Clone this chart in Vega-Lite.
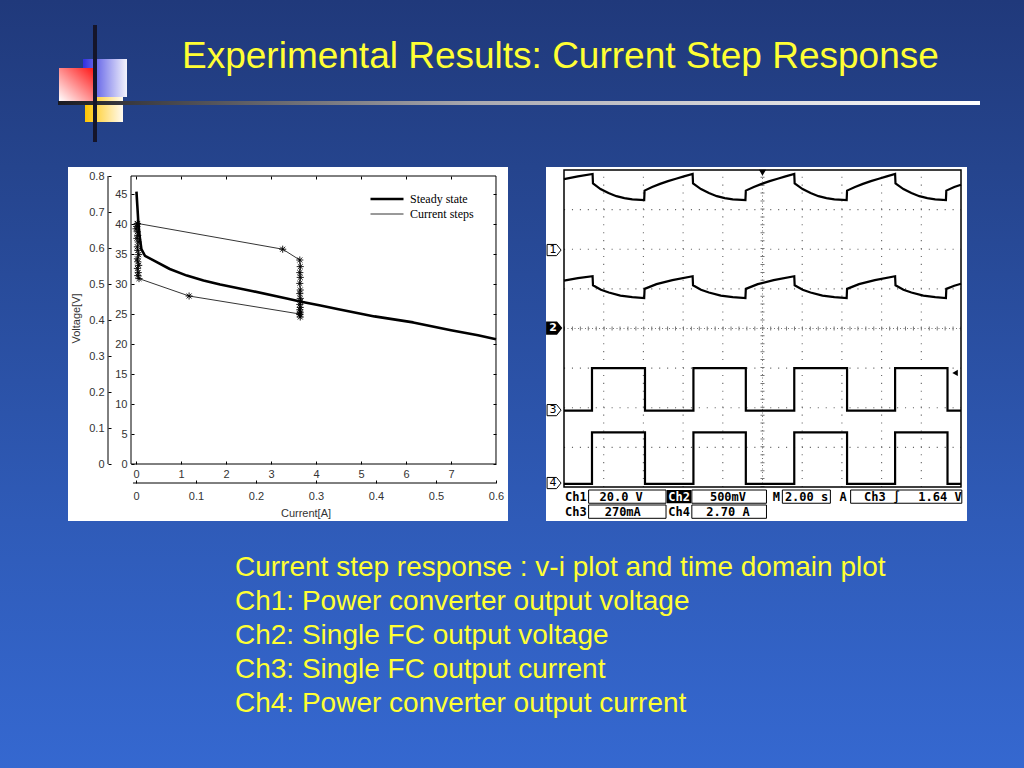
{
  "$schema": "https://vega.github.io/schema/vega-lite/v6.json",
  "background": "#2a4fa3",
  "padding": 0,
  "spacing": 0,
  "config": {"view": {"stroke": null}, "concat": {"spacing": 0}},
  "datasets": {
    "vi": [
      {"series":"Steady state","i":1,"A":0.01,"V":45.4},
      {"series":"Steady state","i":2,"A":0.03,"V":43.0},
      {"series":"Steady state","i":3,"A":0.05,"V":40.5},
      {"series":"Steady state","i":4,"A":0.08,"V":38.0},
      {"series":"Steady state","i":5,"A":0.12,"V":35.8},
      {"series":"Steady state","i":6,"A":0.2,"V":34.7},
      {"series":"Steady state","i":7,"A":0.4,"V":33.9},
      {"series":"Steady state","i":8,"A":0.75,"V":32.5},
      {"series":"Steady state","i":9,"A":1.13,"V":31.4},
      {"series":"Steady state","i":10,"A":1.5,"V":30.6},
      {"series":"Steady state","i":11,"A":1.87,"V":29.9},
      {"series":"Steady state","i":12,"A":2.6,"V":28.8},
      {"series":"Steady state","i":13,"A":3.35,"V":27.6},
      {"series":"Steady state","i":14,"A":3.7,"V":27.0},
      {"series":"Steady state","i":15,"A":4.1,"V":26.4},
      {"series":"Steady state","i":16,"A":4.5,"V":25.8},
      {"series":"Steady state","i":17,"A":5.3,"V":24.6},
      {"series":"Steady state","i":18,"A":6.16,"V":23.6},
      {"series":"Steady state","i":19,"A":7.0,"V":22.3},
      {"series":"Steady state","i":20,"A":7.6,"V":21.45},
      {"series":"Steady state","i":21,"A":8.0,"V":20.8},
      {"series":"Current steps","i":1,"A":0.03,"V":40.1},
      {"series":"Current steps","i":2,"A":3.26,"V":35.8},
      {"series":"Current steps","i":3,"A":3.64,"V":34.0},
      {"series":"Current steps","i":4,"A":3.65,"V":32.9},
      {"series":"Current steps","i":5,"A":3.64,"V":31.9},
      {"series":"Current steps","i":6,"A":3.65,"V":31.1},
      {"series":"Current steps","i":7,"A":3.64,"V":30.1},
      {"series":"Current steps","i":8,"A":3.65,"V":29.0},
      {"series":"Current steps","i":9,"A":3.64,"V":28.4},
      {"series":"Current steps","i":10,"A":3.65,"V":27.6},
      {"series":"Current steps","i":11,"A":3.66,"V":27.1},
      {"series":"Current steps","i":12,"A":3.64,"V":26.6},
      {"series":"Current steps","i":13,"A":3.65,"V":26.1},
      {"series":"Current steps","i":14,"A":3.64,"V":25.7},
      {"series":"Current steps","i":15,"A":3.65,"V":25.3},
      {"series":"Current steps","i":16,"A":3.64,"V":24.9},
      {"series":"Current steps","i":17,"A":3.65,"V":24.5},
      {"series":"Current steps","i":18,"A":3.64,"V":25.0},
      {"series":"Current steps","i":19,"A":1.18,"V":28.0},
      {"series":"Current steps","i":20,"A":0.067,"V":30.9},
      {"series":"Current steps","i":21,"A":0.04,"V":31.4},
      {"series":"Current steps","i":22,"A":0.05,"V":31.9},
      {"series":"Current steps","i":23,"A":0.03,"V":32.6},
      {"series":"Current steps","i":24,"A":0.06,"V":33.1},
      {"series":"Current steps","i":25,"A":0.04,"V":33.7},
      {"series":"Current steps","i":26,"A":0.03,"V":34.2},
      {"series":"Current steps","i":27,"A":0.06,"V":34.9},
      {"series":"Current steps","i":28,"A":0.04,"V":35.6},
      {"series":"Current steps","i":29,"A":0.03,"V":36.2},
      {"series":"Current steps","i":30,"A":0.05,"V":37.0},
      {"series":"Current steps","i":31,"A":0.02,"V":37.6},
      {"series":"Current steps","i":32,"A":0.04,"V":38.1},
      {"series":"Current steps","i":33,"A":0.03,"V":38.7},
      {"series":"Current steps","i":34,"A":0.0,"V":39.2},
      {"series":"Current steps","i":35,"A":0.02,"V":39.6},
      {"series":"Current steps","i":36,"A":0.03,"V":40.0}
    ],
    "scope": [
      {"ch":"1","i":1,"t":0,"v":7.77},{"ch":"1","i":2,"t":0.35,"v":7.84},{"ch":"1","i":3,"t":0.72,"v":7.9},{"ch":"1","i":4,"t":0.73,"v":7.66},
      {"ch":"1","i":5,"t":0.92,"v":7.52},{"ch":"1","i":6,"t":1.12,"v":7.42},{"ch":"1","i":7,"t":1.32,"v":7.34},{"ch":"1","i":8,"t":1.52,"v":7.29},
      {"ch":"1","i":9,"t":1.72,"v":7.26},{"ch":"1","i":10,"t":2.02,"v":7.24},{"ch":"1","i":11,"t":2.03,"v":7.48},{"ch":"1","i":12,"t":2.22,"v":7.57},
      {"ch":"1","i":13,"t":2.42,"v":7.65},{"ch":"1","i":14,"t":2.62,"v":7.72},{"ch":"1","i":15,"t":2.82,"v":7.78},{"ch":"1","i":16,"t":3.02,"v":7.84},
      {"ch":"1","i":17,"t":3.24,"v":7.9},{"ch":"1","i":18,"t":3.25,"v":7.66},{"ch":"1","i":19,"t":3.45,"v":7.52},{"ch":"1","i":20,"t":3.65,"v":7.42},
      {"ch":"1","i":21,"t":3.85,"v":7.34},{"ch":"1","i":22,"t":4.05,"v":7.29},{"ch":"1","i":23,"t":4.25,"v":7.26},{"ch":"1","i":24,"t":4.57,"v":7.24},
      {"ch":"1","i":25,"t":4.58,"v":7.48},{"ch":"1","i":26,"t":4.78,"v":7.57},{"ch":"1","i":27,"t":4.98,"v":7.65},{"ch":"1","i":28,"t":5.18,"v":7.72},
      {"ch":"1","i":29,"t":5.38,"v":7.78},{"ch":"1","i":30,"t":5.58,"v":7.84},{"ch":"1","i":31,"t":5.8,"v":7.9},{"ch":"1","i":32,"t":5.81,"v":7.66},
      {"ch":"1","i":33,"t":6.01,"v":7.52},{"ch":"1","i":34,"t":6.21,"v":7.42},{"ch":"1","i":35,"t":6.41,"v":7.34},{"ch":"1","i":36,"t":6.61,"v":7.29},
      {"ch":"1","i":37,"t":6.81,"v":7.26},{"ch":"1","i":38,"t":7.12,"v":7.24},{"ch":"1","i":39,"t":7.13,"v":7.48},{"ch":"1","i":40,"t":7.33,"v":7.57},
      {"ch":"1","i":41,"t":7.53,"v":7.65},{"ch":"1","i":42,"t":7.73,"v":7.72},{"ch":"1","i":43,"t":7.93,"v":7.78},{"ch":"1","i":44,"t":8.13,"v":7.84},
      {"ch":"1","i":45,"t":8.34,"v":7.9},{"ch":"1","i":46,"t":8.35,"v":7.66},{"ch":"1","i":47,"t":8.55,"v":7.52},{"ch":"1","i":48,"t":8.75,"v":7.42},
      {"ch":"1","i":49,"t":8.95,"v":7.34},{"ch":"1","i":50,"t":9.15,"v":7.29},{"ch":"1","i":51,"t":9.35,"v":7.26},{"ch":"1","i":52,"t":9.62,"v":7.24},
      {"ch":"1","i":53,"t":9.63,"v":7.48},{"ch":"1","i":54,"t":9.83,"v":7.57},{"ch":"1","i":55,"t":10.0,"v":7.63},
      {"ch":"2","i":1,"t":0,"v":5.21},{"ch":"2","i":2,"t":0.35,"v":5.27},{"ch":"2","i":3,"t":0.72,"v":5.32},{"ch":"2","i":4,"t":0.73,"v":5.09},
      {"ch":"2","i":5,"t":0.93,"v":4.98},{"ch":"2","i":6,"t":1.13,"v":4.91},{"ch":"2","i":7,"t":1.42,"v":4.83},{"ch":"2","i":8,"t":1.72,"v":4.79},
      {"ch":"2","i":9,"t":2.02,"v":4.77},{"ch":"2","i":10,"t":2.03,"v":5.0},{"ch":"2","i":11,"t":2.33,"v":5.12},{"ch":"2","i":12,"t":2.73,"v":5.22},
      {"ch":"2","i":13,"t":3.24,"v":5.32},{"ch":"2","i":14,"t":3.25,"v":5.09},{"ch":"2","i":15,"t":3.45,"v":4.98},{"ch":"2","i":16,"t":3.65,"v":4.91},
      {"ch":"2","i":17,"t":3.95,"v":4.83},{"ch":"2","i":18,"t":4.25,"v":4.79},{"ch":"2","i":19,"t":4.57,"v":4.77},{"ch":"2","i":20,"t":4.58,"v":5.0},
      {"ch":"2","i":21,"t":4.88,"v":5.12},{"ch":"2","i":22,"t":5.28,"v":5.22},{"ch":"2","i":23,"t":5.8,"v":5.32},{"ch":"2","i":24,"t":5.81,"v":5.09},
      {"ch":"2","i":25,"t":6.01,"v":4.98},{"ch":"2","i":26,"t":6.21,"v":4.91},{"ch":"2","i":27,"t":6.51,"v":4.83},{"ch":"2","i":28,"t":6.81,"v":4.79},
      {"ch":"2","i":29,"t":7.12,"v":4.77},{"ch":"2","i":30,"t":7.13,"v":5.0},{"ch":"2","i":31,"t":7.43,"v":5.12},{"ch":"2","i":32,"t":7.83,"v":5.22},
      {"ch":"2","i":33,"t":8.34,"v":5.32},{"ch":"2","i":34,"t":8.35,"v":5.09},{"ch":"2","i":35,"t":8.55,"v":4.98},{"ch":"2","i":36,"t":8.75,"v":4.91},
      {"ch":"2","i":37,"t":9.05,"v":4.83},{"ch":"2","i":38,"t":9.35,"v":4.79},{"ch":"2","i":39,"t":9.62,"v":4.77},{"ch":"2","i":40,"t":9.63,"v":5.0},
      {"ch":"2","i":41,"t":9.83,"v":5.08},{"ch":"2","i":42,"t":10.0,"v":5.13},
      {"ch":"3","i":1,"t":0,"v":1.93},{"ch":"3","i":2,"t":0.705,"v":1.93},{"ch":"3","i":3,"t":0.705,"v":3.0},{"ch":"3","i":4,"t":2.04,"v":3.0},
      {"ch":"3","i":5,"t":2.04,"v":1.93},{"ch":"3","i":6,"t":3.26,"v":1.93},{"ch":"3","i":7,"t":3.26,"v":3.0},{"ch":"3","i":8,"t":4.58,"v":3.0},
      {"ch":"3","i":9,"t":4.58,"v":1.93},{"ch":"3","i":10,"t":5.8,"v":1.93},{"ch":"3","i":11,"t":5.8,"v":3.0},{"ch":"3","i":12,"t":7.13,"v":3.0},
      {"ch":"3","i":13,"t":7.13,"v":1.93},{"ch":"3","i":14,"t":8.34,"v":1.93},{"ch":"3","i":15,"t":8.34,"v":3.0},{"ch":"3","i":16,"t":9.66,"v":3.0},
      {"ch":"3","i":17,"t":9.66,"v":1.93},{"ch":"3","i":18,"t":10.0,"v":1.93},
      {"ch":"4","i":1,"t":0,"v":0.08},{"ch":"4","i":2,"t":0.705,"v":0.08},{"ch":"4","i":3,"t":0.705,"v":1.38},{"ch":"4","i":4,"t":2.04,"v":1.38},
      {"ch":"4","i":5,"t":2.04,"v":0.08},{"ch":"4","i":6,"t":3.26,"v":0.08},{"ch":"4","i":7,"t":3.26,"v":1.38},{"ch":"4","i":8,"t":4.58,"v":1.38},
      {"ch":"4","i":9,"t":4.58,"v":0.08},{"ch":"4","i":10,"t":5.8,"v":0.08},{"ch":"4","i":11,"t":5.8,"v":1.38},{"ch":"4","i":12,"t":7.13,"v":1.38},
      {"ch":"4","i":13,"t":7.13,"v":0.08},{"ch":"4","i":14,"t":8.34,"v":0.08},{"ch":"4","i":15,"t":8.34,"v":1.38},{"ch":"4","i":16,"t":9.66,"v":1.38},
      {"ch":"4","i":17,"t":9.66,"v":0.08},{"ch":"4","i":18,"t":10.0,"v":0.08}
    ],
    "readbox": [
      {"x0":0.62,"x1":2.57,"y0":-0.41,"y1":-0.076},
      {"x0":3.22,"x1":5.10,"y0":-0.41,"y1":-0.076},
      {"x0":5.50,"x1":6.71,"y0":-0.41,"y1":-0.076},
      {"x0":7.22,"x1":10.02,"y0":-0.41,"y1":-0.076},
      {"x0":0.62,"x1":2.57,"y0":-0.79,"y1":-0.454},
      {"x0":3.22,"x1":5.10,"y0":-0.79,"y1":-0.454}
    ],
    "readtext": [
      {"t":"Ch1","x":0.3,"y":-0.245},
      {"t":"20.0 V","x":1.44,"y":-0.245},
      {"t":"500mV","x":4.13,"y":-0.245},
      {"t":"M","x":5.35,"y":-0.245},
      {"t":"2.00 s","x":6.11,"y":-0.245},
      {"t":"A","x":7.03,"y":-0.245},
      {"t":"Ch3","x":7.83,"y":-0.245},
      {"t":"∫","x":8.38,"y":-0.245},
      {"t":"1.64 V","x":9.47,"y":-0.245},
      {"t":"Ch3","x":0.3,"y":-0.62},
      {"t":"270mA","x":1.48,"y":-0.62},
      {"t":"Ch4","x":2.9,"y":-0.62},
      {"t":"2.70 A","x":4.13,"y":-0.62}
    ],
    "chmarks": [
      {"lab":"1","y":5.98},
      {"lab":"3","y":1.94},
      {"lab":"4","y":0.1}
    ],
    "notes": [
      {"line":1,"text":"Current step response : v-i plot and time domain plot"},
      {"line":2,"text":"Ch1: Power converter output voltage"},
      {"line":3,"text":"Ch2: Single FC output voltage"},
      {"line":4,"text":"Ch3: Single FC output current"},
      {"line":5,"text":"Ch4: Power converter output current"}
    ]
  },
  "vconcat": [
    {
      "width": 1024,
      "height": 167,
      "view": {"fill": {"gradient":"linear","x1":0,"y1":0,"x2":0,"y2":1,"stops":[{"offset":0,"color":"#20397b"},{"offset":1,"color":"#25448d"}]}},
      "data": {"values": [{}]},
      "layer": [
        {
          "mark": {"type":"rect","fill":{"gradient":"linear","x1":0,"y1":0,"x2":1,"y2":0,"stops":[{"offset":0,"color":"#2f2fe0"},{"offset":1,"color":"#f4f4fc"}]}},
          "encoding": {
            "x": {"datum":83,"type":"quantitative","scale":{"domain":[0,1024],"nice":false,"zero":false},"axis":null},
            "x2": {"datum":127},
            "y": {"datum":59,"type":"quantitative","scale":{"domain":[0,167],"reverse":true,"nice":false,"zero":false},"axis":null},
            "y2": {"datum":97}
          }
        },
        {
          "mark": {"type":"rect","fill":{"gradient":"linear","x1":0,"y1":0,"x2":1,"y2":0,"stops":[{"offset":0,"color":"#ffc400"},{"offset":1,"color":"#fffaf0"}]}},
          "encoding": {
            "x": {"datum":85,"type":"quantitative","scale":{"domain":[0,1024],"nice":false,"zero":false},"axis":null},
            "x2": {"datum":123},
            "y": {"datum":97,"type":"quantitative","scale":{"domain":[0,167],"reverse":true,"nice":false,"zero":false},"axis":null},
            "y2": {"datum":122}
          }
        },
        {
          "mark": {"type":"rect","fill":{"gradient":"linear","x1":0,"y1":1,"x2":1,"y2":0,"stops":[{"offset":0,"color":"#ffffff"},{"offset":0.95,"color":"#ff1e1e"}]}},
          "encoding": {
            "x": {"datum":59,"type":"quantitative","scale":{"domain":[0,1024],"nice":false,"zero":false},"axis":null},
            "x2": {"datum":95},
            "y": {"datum":68,"type":"quantitative","scale":{"domain":[0,167],"reverse":true,"nice":false,"zero":false},"axis":null},
            "y2": {"datum":101}
          }
        },
        {
          "mark": {"type":"rect","fill":{"gradient":"linear","x1":0,"y1":0,"x2":1,"y2":0,"stops":[{"offset":0,"color":"#1a1a22"},{"offset":0.08,"color":"#3a3a40"},{"offset":0.45,"color":"#a8a8b0"},{"offset":1,"color":"#ffffff"}]}},
          "encoding": {
            "x": {"datum":58,"type":"quantitative","scale":{"domain":[0,1024],"nice":false,"zero":false},"axis":null},
            "x2": {"datum":980},
            "y": {"datum":101,"type":"quantitative","scale":{"domain":[0,167],"reverse":true,"nice":false,"zero":false},"axis":null},
            "y2": {"datum":105}
          }
        },
        {
          "mark": {"type":"rect","fill":"#15152a"},
          "encoding": {
            "x": {"datum":93,"type":"quantitative","scale":{"domain":[0,1024],"nice":false,"zero":false},"axis":null},
            "x2": {"datum":97},
            "y": {"datum":25,"type":"quantitative","scale":{"domain":[0,167],"reverse":true,"nice":false,"zero":false},"axis":null},
            "y2": {"datum":142}
          }
        },
        {
          "mark": {"type":"text","align":"left","baseline":"middle","font":"Liberation Sans","fontSize":37,"fill":"#ffff33"},
          "encoding": {
            "x": {"datum":182,"type":"quantitative","scale":{"domain":[0,1024],"nice":false,"zero":false},"axis":null},
            "y": {"datum":57,"type":"quantitative","scale":{"domain":[0,167],"reverse":true,"nice":false,"zero":false},"axis":null},
            "text": {"value":"Experimental Results: Current Step Response"}
          }
        }
      ]
    },
    {
      "spacing": 0,
      "bounds": "flush",
      "hconcat": [
        {
          "width": 68, "height": 354,
          "view": {"fill": {"gradient":"linear","x1":0,"y1":0,"x2":0,"y2":1,"stops":[{"offset":0,"color":"#25448d"},{"offset":1,"color":"#2f5bb8"}]}},
          "data": {"values": [{}]},
          "mark": {"type":"point","opacity":0}
        },
        {
          "width": 440, "height": 354,
          "view": {"fill": "white"},
          "resolve": {"axis": {"x":"independent","y":"independent"}},
          "layer": [
            {
              "data": {"values": [{}]},
              "mark": {"type":"rect","fill":null,"stroke":"black","strokeWidth":1},
              "encoding": {
                "x": {"datum":-0.111,"type":"quantitative","scale":{"domain":[-1.5111,8.2667],"nice":false,"zero":false},
                      "axis":{"orient":"bottom","offset":-57,"values":[0,1,2,3,4,5,6,7],"domain":false,"grid":false,"tickSize":-3,"tickColor":"black","labelPadding":7,"labelFont":"Liberation Sans","labelFontSize":11,"labelColor":"#333","labelFlush":false,"labelOverlap":false,"minExtent":0,"title":null}},
                "x2": {"datum":8},
                "y": {"datum":0,"type":"quantitative","scale":{"domain":[-9.5,49.5],"nice":false,"zero":false},
                      "axis":{"orient":"left","offset":-63,"values":[0,5,10,15,20,25,30,35,40,45],"domain":false,"grid":false,"tickSize":-3,"tickColor":"black","labelPadding":7,"labelFont":"Liberation Sans","labelFontSize":11,"labelColor":"#333","labelFlush":false,"labelOverlap":false,"minExtent":0,"title":null}},
                "y2": {"datum":48}
              }
            },
            {
              "data": {"values": [{}]},
              "mark": {"type":"rule","stroke":"black","strokeWidth":1},
              "encoding": {
                "x": {"datum":-0.622,"type":"quantitative","scale":{"domain":[-1.5111,8.2667],"nice":false,"zero":false},"axis":null},
                "y": {"datum":0,"type":"quantitative","scale":{"domain":[-9.5,49.5],"nice":false,"zero":false},"axis":null},
                "y2": {"datum":48}
              }
            },
            {
              "data": {"values": [{}]},
              "mark": {"type":"rule","stroke":"black","strokeWidth":1},
              "encoding": {
                "x": {"datum":-0.067,"type":"quantitative","scale":{"domain":[-1.5111,8.2667],"nice":false,"zero":false},"axis":null},
                "x2": {"datum":8},
                "y": {"datum":-3.167,"type":"quantitative","scale":{"domain":[-9.5,49.5],"nice":false,"zero":false},"axis":null}
              }
            },
            {
              "data": {"name":"vi"},
              "mark": {"type":"line","color":"black","strokeJoin":"round"},
              "encoding": {
                "x": {"field":"A","type":"quantitative","scale":{"domain":[-1.5111,8.2667],"nice":false,"zero":false},
                      "axis":{"orient":"bottom","offset":-38,"values":[0,1.33333,2.66667,4,5.33333,6.66667,8],"labelExpr":"datum.value == 0 ? '0' : format(datum.value*0.075, '.1f')","domain":false,"grid":false,"tickSize":-3,"tickColor":"black","labelPadding":10,"labelFont":"Liberation Sans","labelFontSize":11,"labelColor":"#333","labelFlush":false,"labelOverlap":false,"minExtent":0,
                              "title":"Current[A]","titleFont":"Liberation Sans","titleFontSize":11,"titleFontWeight":"normal","titleColor":"#333","titleX":237.5,"titleY":30,"titleAlign":"center","titleBaseline":"middle"}},
                "y": {"field":"V","type":"quantitative","scale":{"domain":[-9.5,49.5],"nice":false,"zero":false},
                      "axis":{"orient":"left","offset":-40,"values":[0,6,12,18,24,30,36,42,48],"labelExpr":"datum.value == 0 ? '0' : format(datum.value/60, '.1f')","domain":false,"grid":false,"tickSize":-3,"tickColor":"black","labelPadding":7,"labelFont":"Liberation Sans","labelFontSize":11,"labelColor":"#333","labelFlush":false,"labelOverlap":false,"minExtent":0,
                              "title":"Voltage[V]","titleFont":"Liberation Sans","titleFontSize":11,"titleFontWeight":"normal","titleColor":"#333","titleAngle":-90,"titleX":-32,"titleY":151,"titleAlign":"center","titleBaseline":"middle"}},
                "detail": {"field":"series","type":"nominal"},
                "order": {"field":"i","type":"quantitative"},
                "strokeWidth": {"field":"series","type":"nominal","scale":{"domain":["Steady state","Current steps"],"range":[2.6,0.8]},
                      "legend":{"orient":"none","legendX":369,"legendY":193,"title":null,"symbolType":"stroke","symbolSize":1089,"symbolStrokeColor":"black","clipHeight":12,"rowPadding":3,"labelFont":"Liberation Serif","labelFontSize":12,"labelColor":"black","labelOffset":5,"padding":0}}
              }
            },
            {
              "data": {"name":"vi"},
              "transform": [{"filter":"datum.series == 'Current steps'"}],
              "mark": {"type":"point","shape":"M-1,0L1,0M0,-1L0,1M-0.7,-0.7L0.7,0.7M-0.7,0.7L0.7,-0.7","filled":false,"stroke":"black","strokeWidth":0.9,"size":50,"opacity":1},
              "encoding": {
                "x": {"field":"A","type":"quantitative","scale":{"domain":[-1.5111,8.2667],"nice":false,"zero":false},
                      "axis":{"orient":"top","offset":-9,"values":[0,1,2,3,4,5,6,7],"labels":false,"domain":false,"grid":false,"tickSize":-3,"tickColor":"black","minExtent":0,"title":null}},
                "y": {"field":"V","type":"quantitative","scale":{"domain":[-9.5,49.5],"nice":false,"zero":false},
                      "axis":{"orient":"right","offset":-12,"values":[0,5,10,15,20,25,30,35,40,45],"labels":false,"domain":false,"grid":false,"tickSize":-3,"tickColor":"black","minExtent":0,"title":null}}
              }
            }
          ]
        },
        {
          "width": 38, "height": 354,
          "view": {"fill": {"gradient":"linear","x1":0,"y1":0,"x2":0,"y2":1,"stops":[{"offset":0,"color":"#25448d"},{"offset":1,"color":"#2f5bb8"}]}},
          "data": {"values": [{}]},
          "mark": {"type":"point","opacity":0}
        },
        {
          "width": 421, "height": 354,
          "view": {"fill": "white"},
          "layer": [
            {
              "data": {"values": [{"g":1},{"g":2},{"g":3},{"g":4},{"g":6},{"g":7},{"g":8},{"g":9}]},
              "mark": {"type":"rule","stroke":"#666","strokeWidth":1.1,"strokeDash":[1.1,6.83]},
              "encoding": {
                "x": {"field":"g","type":"quantitative","scale":{"domain":[-0.4534,10.151],"nice":false,"zero":false},"axis":null},
                "y": {"datum":0,"type":"quantitative","scale":{"domain":[-0.858,8.076],"nice":false,"zero":false},"axis":null},
                "y2": {"datum":8}
              }
            },
            {
              "data": {"values": [{"g":1},{"g":2},{"g":3},{"g":5},{"g":6},{"g":7}]},
              "mark": {"type":"rule","stroke":"#666","strokeWidth":1.1,"strokeDash":[1.1,6.83]},
              "encoding": {
                "y": {"field":"g","type":"quantitative","scale":{"domain":[-0.858,8.076],"nice":false,"zero":false},"axis":null},
                "x": {"datum":0,"type":"quantitative","scale":{"domain":[-0.4534,10.151],"nice":false,"zero":false},"axis":null},
                "x2": {"datum":10}
              }
            },
            {
              "data": {"values": [{}]},
              "mark": {"type":"rule","stroke":"#777","strokeWidth":1,"strokeDash":[1,2.5]},
              "encoding": {
                "x": {"datum":5,"type":"quantitative","scale":{"domain":[-0.4534,10.151],"nice":false,"zero":false},"axis":null},
                "y": {"datum":0,"type":"quantitative","scale":{"domain":[-0.858,8.076],"nice":false,"zero":false},"axis":null},
                "y2": {"datum":8}
              }
            },
            {
              "data": {"values": [{}]},
              "mark": {"type":"rule","stroke":"#777","strokeWidth":4,"strokeDash":[1,6.93]},
              "encoding": {
                "x": {"datum":5,"type":"quantitative","scale":{"domain":[-0.4534,10.151],"nice":false,"zero":false},"axis":null},
                "y": {"datum":0,"type":"quantitative","scale":{"domain":[-0.858,8.076],"nice":false,"zero":false},"axis":null},
                "y2": {"datum":8}
              }
            },
            {
              "data": {"values": [{}]},
              "mark": {"type":"rule","stroke":"#777","strokeWidth":1,"strokeDash":[1,2.5]},
              "encoding": {
                "y": {"datum":4,"type":"quantitative","scale":{"domain":[-0.858,8.076],"nice":false,"zero":false},"axis":null},
                "x": {"datum":0,"type":"quantitative","scale":{"domain":[-0.4534,10.151],"nice":false,"zero":false},"axis":null},
                "x2": {"datum":10}
              }
            },
            {
              "data": {"values": [{}]},
              "mark": {"type":"rule","stroke":"#777","strokeWidth":4,"strokeDash":[1,6.93]},
              "encoding": {
                "y": {"datum":4,"type":"quantitative","scale":{"domain":[-0.858,8.076],"nice":false,"zero":false},"axis":null},
                "x": {"datum":0,"type":"quantitative","scale":{"domain":[-0.4534,10.151],"nice":false,"zero":false},"axis":null},
                "x2": {"datum":10}
              }
            },
            {
              "data": {"values": [{}]},
              "mark": {"type":"rect","fill":null,"stroke":"black","strokeWidth":1.5},
              "encoding": {
                "x": {"datum":0,"type":"quantitative","scale":{"domain":[-0.4534,10.151],"nice":false,"zero":false},"axis":null},
                "x2": {"datum":10},
                "y": {"datum":0,"type":"quantitative","scale":{"domain":[-0.858,8.076],"nice":false,"zero":false},"axis":null},
                "y2": {"datum":8}
              }
            },
            {
              "data": {"name":"scope"},
              "mark": {"type":"line","stroke":"black","strokeWidth":2.2,"strokeJoin":"miter"},
              "encoding": {
                "x": {"field":"t","type":"quantitative","scale":{"domain":[-0.4534,10.151],"nice":false,"zero":false},"axis":null},
                "y": {"field":"v","type":"quantitative","scale":{"domain":[-0.858,8.076],"nice":false,"zero":false},"axis":null},
                "detail": {"field":"ch","type":"nominal"},
                "order": {"field":"i","type":"quantitative"}
              }
            },
            {
              "data": {"name":"readbox"},
              "mark": {"type":"rect","fill":"white","stroke":"black","strokeWidth":1},
              "encoding": {
                "x": {"field":"x0","type":"quantitative","scale":{"domain":[-0.4534,10.151],"nice":false,"zero":false},"axis":null},
                "x2": {"field":"x1"},
                "y": {"field":"y0","type":"quantitative","scale":{"domain":[-0.858,8.076],"nice":false,"zero":false},"axis":null},
                "y2": {"field":"y1"}
              }
            },
            {
              "data": {"values": [{}]},
              "mark": {"type":"rect","fill":"black"},
              "encoding": {
                "x": {"datum":2.59,"type":"quantitative","scale":{"domain":[-0.4534,10.151],"nice":false,"zero":false},"axis":null},
                "x2": {"datum":3.2},
                "y": {"datum":-0.41,"type":"quantitative","scale":{"domain":[-0.858,8.076],"nice":false,"zero":false},"axis":null},
                "y2": {"datum":-0.076}
              }
            },
            {
              "data": {"name":"readtext"},
              "mark": {"type":"text","font":"DejaVu Sans Mono","fontSize":12,"fontWeight":"bold","fill":"black","align":"center","baseline":"middle"},
              "encoding": {
                "x": {"field":"x","type":"quantitative","scale":{"domain":[-0.4534,10.151],"nice":false,"zero":false},"axis":null},
                "y": {"field":"y","type":"quantitative","scale":{"domain":[-0.858,8.076],"nice":false,"zero":false},"axis":null},
                "text": {"field":"t","type":"nominal"}
              }
            },
            {
              "data": {"values": [{}]},
              "mark": {"type":"text","font":"DejaVu Sans Mono","fontSize":12,"fontWeight":"bold","fill":"white","align":"center","baseline":"middle"},
              "encoding": {
                "x": {"datum":2.9,"type":"quantitative","scale":{"domain":[-0.4534,10.151],"nice":false,"zero":false},"axis":null},
                "y": {"datum":-0.245,"type":"quantitative","scale":{"domain":[-0.858,8.076],"nice":false,"zero":false},"axis":null},
                "text": {"value":"Ch2"}
              }
            },
            {
              "data": {"name":"chmarks"},
              "mark": {"type":"point","shape":"M-1,-0.8L0.35,-0.8L1,0L0.35,0.8L-1,0.8Z","size":196,"filled":true,"fill":"white","stroke":"black","strokeWidth":1,"opacity":1},
              "encoding": {
                "x": {"datum":-0.25,"type":"quantitative","scale":{"domain":[-0.4534,10.151],"nice":false,"zero":false},"axis":null},
                "y": {"field":"y","type":"quantitative","scale":{"domain":[-0.858,8.076],"nice":false,"zero":false},"axis":null}
              }
            },
            {
              "data": {"name":"chmarks"},
              "mark": {"type":"text","font":"DejaVu Sans","fontSize":11,"fill":"black","align":"center","baseline":"middle","dx":-1},
              "encoding": {
                "x": {"datum":-0.25,"type":"quantitative","scale":{"domain":[-0.4534,10.151],"nice":false,"zero":false},"axis":null},
                "y": {"field":"y","type":"quantitative","scale":{"domain":[-0.858,8.076],"nice":false,"zero":false},"axis":null},
                "text": {"field":"lab","type":"nominal"}
              }
            },
            {
              "data": {"values": [{}]},
              "mark": {"type":"point","shape":"M-1,-0.8L0.35,-0.8L1,0L0.35,0.8L-1,0.8Z","size":196,"filled":true,"fill":"black","stroke":"black","opacity":1},
              "encoding": {
                "x": {"datum":-0.25,"type":"quantitative","scale":{"domain":[-0.4534,10.151],"nice":false,"zero":false},"axis":null},
                "y": {"datum":4.01,"type":"quantitative","scale":{"domain":[-0.858,8.076],"nice":false,"zero":false},"axis":null}
              }
            },
            {
              "data": {"values": [{}]},
              "mark": {"type":"text","font":"DejaVu Sans","fontSize":11,"fontWeight":"bold","fill":"white","align":"center","baseline":"middle","dx":-1},
              "encoding": {
                "x": {"datum":-0.25,"type":"quantitative","scale":{"domain":[-0.4534,10.151],"nice":false,"zero":false},"axis":null},
                "y": {"datum":4.01,"type":"quantitative","scale":{"domain":[-0.858,8.076],"nice":false,"zero":false},"axis":null},
                "text": {"value":"2"}
              }
            },
            {
              "data": {"values": [{}]},
              "mark": {"type":"point","shape":"triangle-down","size":50,"filled":true,"fill":"black","opacity":1},
              "encoding": {
                "x": {"datum":5.0,"type":"quantitative","scale":{"domain":[-0.4534,10.151],"nice":false,"zero":false},"axis":null},
                "y": {"datum":7.93,"type":"quantitative","scale":{"domain":[-0.858,8.076],"nice":false,"zero":false},"axis":null}
              }
            },
            {
              "data": {"values": [{}]},
              "mark": {"type":"point","shape":"triangle-left","size":40,"filled":true,"fill":"black","opacity":1},
              "encoding": {
                "x": {"datum":9.85,"type":"quantitative","scale":{"domain":[-0.4534,10.151],"nice":false,"zero":false},"axis":null},
                "y": {"datum":2.88,"type":"quantitative","scale":{"domain":[-0.858,8.076],"nice":false,"zero":false},"axis":null}
              }
            }
          ]
        },
        {
          "width": 57, "height": 354,
          "view": {"fill": {"gradient":"linear","x1":0,"y1":0,"x2":0,"y2":1,"stops":[{"offset":0,"color":"#25448d"},{"offset":1,"color":"#2f5bb8"}]}},
          "data": {"values": [{}]},
          "mark": {"type":"point","opacity":0}
        }
      ]
    },
    {
      "spacing": 0,
      "bounds": "flush",
      "hconcat": [
        {
          "width": 235, "height": 247,
          "view": {"fill": {"gradient":"linear","x1":0,"y1":0,"x2":0,"y2":1,"stops":[{"offset":0,"color":"#2f5bb8"},{"offset":1,"color":"#3568d0"}]}},
          "data": {"values": [{}]},
          "mark": {"type":"point","opacity":0}
        },
        {
          "width": 789, "height": 247,
          "view": {"fill": {"gradient":"linear","x1":0,"y1":0,"x2":0,"y2":1,"stops":[{"offset":0,"color":"#2f5bb8"},{"offset":1,"color":"#3568d0"}]}},
          "data": {"name":"notes"},
          "mark": {"type":"text","align":"left","baseline":"middle","font":"Liberation Sans","fontSize":28,"fill":"#ffff33"},
          "encoding": {
            "x": {"datum":0,"type":"quantitative","scale":{"domain":[0,1],"nice":false,"zero":false},"axis":null},
            "y": {"field":"line","type":"quantitative","scale":{"domain":[-0.382,6.882],"reverse":true,"nice":false,"zero":false},"axis":null},
            "text": {"field":"text","type":"nominal"}
          }
        }
      ]
    }
  ]
}
